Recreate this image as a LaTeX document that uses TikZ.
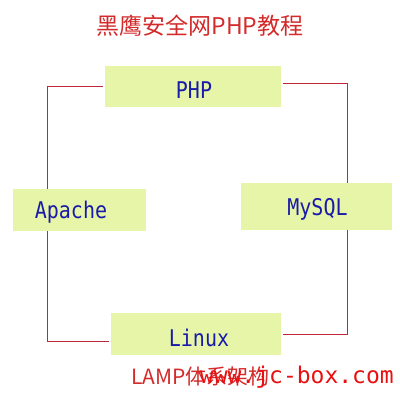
\documentclass[tikz,border=0pt]{standalone}
\usepackage{fontspec}
\newfontfamily\cjk{Noto Sans CJK SC}
\newfontfamily\mono{DejaVu Sans Mono}
\definecolor{boxfill}{HTML}{E6F5A8}
\definecolor{txtblue}{HTML}{1A1AA8}
\definecolor{titlered}{HTML}{D42A2A}
\definecolor{linered}{HTML}{C0283A}
\definecolor{wmred}{HTML}{E81010}
\newcommand{\tallt}[1]{\scalebox{1}[1.15]{#1}}
\begin{document}
\begin{tikzpicture}[x=1pt,y=-1pt,
  box/.style={fill=boxfill, draw=none, inner sep=0pt},
  lbl/.style={text=txtblue, font=\mono\fontsize{20}{20}\selectfont, inner sep=0pt},
  conn/.style={draw=linered, line width=0.7pt}]
\useasboundingbox[fill=white] (0,0) rectangle (400,400);
\node[text=titlered, font=\cjk\fontsize{23}{23}\selectfont, inner sep=0pt] (title) at (200,26) {黑鹰安全网PHP教程};
\node[box, minimum width=176pt, minimum height=41pt] (php) at (193,86.5) {};
\node[box, minimum width=133pt, minimum height=42pt] (apache) at (79.5,210) {};
\node[box, minimum width=151pt, minimum height=47pt] (mysql) at (316.5,206.5) {};
\node[box, minimum width=170pt, minimum height=42pt] (linux) at (196,334) {};
\node[lbl] (phpt) at (194,90) {\tallt{PHP}};
\node[lbl] (apachet) at (71,212) {\tallt{Apache}};
\node[lbl] (mysqlt) at (317.5,209) {\tallt{MySQL}};
\node[lbl] (linuxt) at (199,338) {\tallt{Linux}};
\draw[conn] ([xshift=-2pt]php.west) -| ([xshift=-32.5pt]apache.north);
\draw[conn] ([xshift=-32.5pt]apache.south) |- ([xshift=-2pt,yshift=-7pt]linux.west);
\draw[conn] ([xshift=2pt,yshift=3.5pt]php.east) -| ([xshift=30.5pt]mysql.north);
\draw[conn] ([xshift=30.5pt]mysql.south) |- ([xshift=2pt]linux.east);
\node[text=titlered, font=\cjk\fontsize{21}{21}\selectfont, inner sep=0pt, anchor=west] (lamp) at (131,377) {LAMP体系架构};
\node[text=wmred, font=\mono\fontsize{23}{23}\selectfont, inner sep=0pt, anchor=east] (wm) at (394,377) {www.jc-box.com};
\end{tikzpicture}
\end{document}
